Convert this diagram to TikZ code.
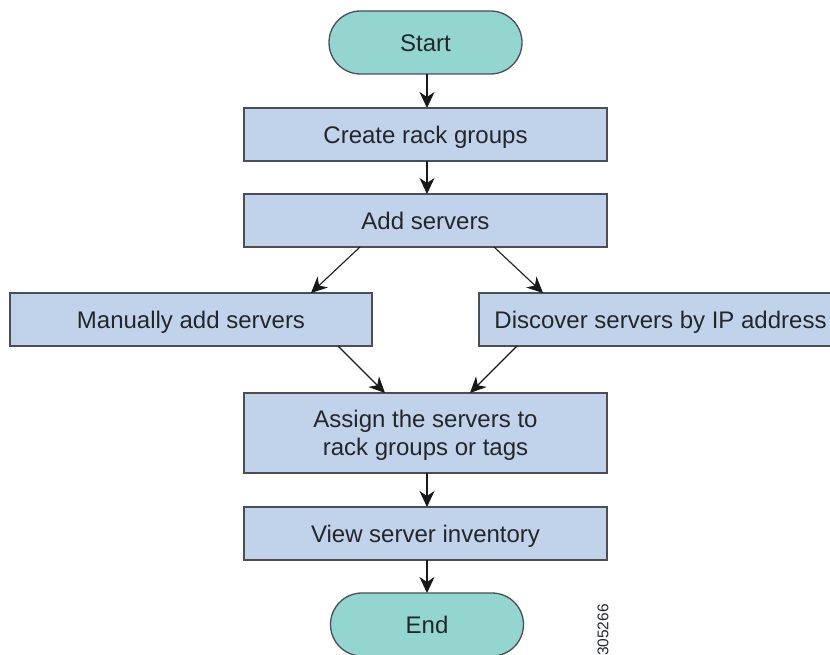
\documentclass[tikz,border=0pt]{standalone}
\usepackage{fontspec}
\setmainfont{Liberation Sans}
\usetikzlibrary{arrows.meta,shapes.misc}
\definecolor{boxblue}{HTML}{C1D3EA}
\definecolor{termteal}{HTML}{93D5CF}
\definecolor{edgegray}{HTML}{4A4F55}
\definecolor{inkdark}{HTML}{23262A}
\tikzset{
  x=1pt,y=1pt,
  basebox/.style={draw=edgegray,line width=1.3pt,text=inkdark,inner sep=0pt,outer sep=0pt,align=center,font=\fontsize{24}{28}\selectfont},
  procbox/.style={basebox,rectangle,fill=boxblue,minimum width=363pt},
  lowered/.style={text height=20pt,text depth=2pt},
  termbox/.style={basebox,lowered,rounded rectangle,fill=termteal,minimum width=193pt,minimum height=63pt},
  flow/.style={draw=black!90,line width=1.1pt,-{Stealth[length=16pt,width=15pt,inset=5pt]}},
}
\begin{document}
\begin{tikzpicture}
\useasboundingbox (0,0) rectangle (830,-655);
\node[termbox] (start) at (425.5,-42.5) {Start};
\node[procbox,lowered,minimum height=53pt] (create) at (425.5,-134.5) {Create rack groups};
\node[procbox,lowered,minimum height=53pt] (add) at (425.5,-220.5) {Add servers};
\node[procbox,lowered,minimum height=53pt,minimum width=362pt] (manual) at (191,-319.5) {Manually add servers};
\node[procbox,lowered,minimum height=53pt] (discover) at (660.5,-319.5) {Discover servers by IP address};
\node[procbox,minimum height=80pt] (assign) at (425.5,-433) {\raisebox{-9.5pt}[30pt][30pt]{\begin{tabular}{@{}c@{}}Assign the servers to\\rack groups or tags\end{tabular}}};
\node[procbox,lowered,minimum height=53pt] (view) at (425.5,-533.5) {View server inventory};
\node[termbox] (end) at (427,-624.5) {End};
\node[rotate=90,font=\fontsize{15.5}{17}\selectfont,text=inkdark,inner sep=0pt] (code) at (603,-630) {305266};
\draw[flow] ([xshift=1.5pt]start.south) -- ([xshift=1.5pt]create.north);
\draw[flow] ([xshift=1.5pt]create.south) -- ([xshift=1.5pt]add.north);
\draw[flow] ([xshift=-65.5pt]add.south) -- ([xshift=120pt]manual.north);
\draw[flow] ([xshift=68.5pt]add.south) -- ([xshift=-117.5pt]discover.north);
\draw[flow] ([xshift=147pt]manual.south) -- ([xshift=-40.5pt]assign.north);
\draw[flow] ([xshift=-143.5pt]discover.south) -- ([xshift=44.5pt]assign.north);
\draw[flow] ([xshift=1.5pt]assign.south) -- ([xshift=1.5pt]view.north);
\draw[flow] ([xshift=1.5pt]view.south) -- (end.north);
\end{tikzpicture}
\end{document}
